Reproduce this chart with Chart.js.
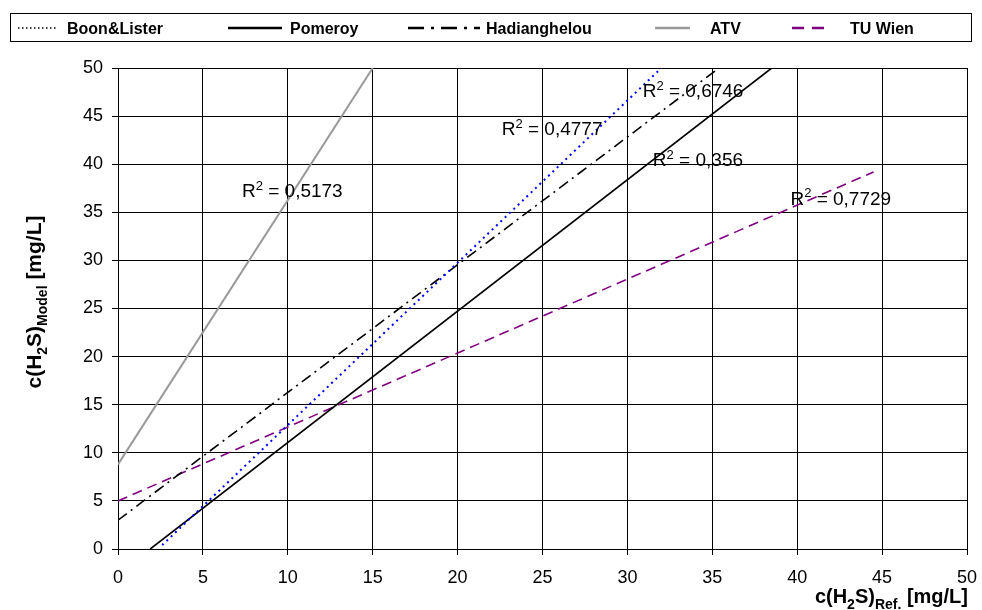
<!DOCTYPE html>
<html>
<head>
<meta charset="utf-8">
<script src="https://cdn.jsdelivr.net/npm/chart.js@4/dist/chart.umd.min.js"></script>
<style>
  html, body { margin: 0; padding: 0; background: #fff; }
  #wrap { width: 982px; height: 610px; position: relative; }
</style>
</head>
<body>
<div id="wrap"><canvas id="h2sChart"></canvas></div>
<script>
// trend lines, start and end points
var names = ["Boon&Lister", "Pomeroy", "Hadianghelou", "ATV", "TU Wien"];
var boonX = [2.6, 32.0], boonY = [0.4, 50];
var pomeroyX = [1.9, 38.5], pomeroyY = [0, 50];
var hadiX = [0, 35.4], hadiY = [3, 50];
var atvX = [0, 15], atvY = [8.8, 50];
var tuwX = [0, 44.5], tuwY = [5, 39.2];

// R² labels: text, x, y (data units, baseline left)
var r2Text = ["0,5173", "0,4777", "0,6746", "0,356", "0,7729"];
var r2X = [7.3, 22.6, 30.9, 31.5, 39.6];
var r2Y = [36.6, 43.0, 47.0, 39.8, 35.8];

var ticks = [0, 5, 10, 15, 20, 25, 30, 35, 40, 45, 50];

function pts(xs, ys) {
  return xs.map(function (x, i) { return { x: x, y: ys[i] }; });
}

var styles = [
  { color: "#0000ff", legendColor: "#000", dash: [2, 4], width: 2 },
  { color: "#000", dash: [], width: 1.6 },
  { color: "#000", dash: [11, 5, 2, 5], width: 1.6 },
  { color: "#999", dash: [], width: 2 },
  { color: "#800080", dash: [10, 6], width: 1.6 }
];
var series = [pts(boonX, boonY), pts(pomeroyX, pomeroyY), pts(hadiX, hadiY), pts(atvX, atvY), pts(tuwX, tuwY)];

var FONT = "'Liberation Sans', Arial, sans-serif";

function drawParts(ctx, parts, x, y, size) {
  // parts: [text, mode] mode 0 normal, 1 subscript, 2 superscript
  var cx = x;
  parts.forEach(function (p) {
    var s = p[1] ? Math.round(size * 0.68) : size;
    ctx.font = (ctx._bold ? "bold " : "") + s + "px " + FONT;
    var dy = p[1] === 1 ? size * 0.28 : (p[1] === 2 ? -size * 0.38 : 0);
    ctx.fillText(p[0], cx, y + dy);
    cx += ctx.measureText(p[0]).width;
  });
  return cx - x;
}
function partsWidth(ctx, parts, size) {
  var w = 0;
  parts.forEach(function (p) {
    var s = p[1] ? Math.round(size * 0.68) : size;
    ctx.font = (ctx._bold ? "bold " : "") + s + "px " + FONT;
    w += ctx.measureText(p[0]).width;
  });
  return w;
}

var decor = {
  id: "decor",
  afterDraw: function (chart) {
    var ctx = chart.ctx;
    var xs = chart.scales.x, ys = chart.scales.y;
    ctx.save();
    ctx.fillStyle = "#000";
    ctx.textBaseline = "alphabetic";
    ctx.textAlign = "left";

    // R² labels
    ctx._bold = false;
    r2Text.forEach(function (t, i) {
      drawParts(ctx, [["R", 0], ["2", 2], [" = " + t, 0]],
        xs.getPixelForValue(r2X[i]), ys.getPixelForValue(r2Y[i]), 19);
    });

    // legend box
    ctx.strokeStyle = "#000";
    ctx.lineWidth = 1;
    ctx.setLineDash([]);
    ctx.strokeRect(10.5, 13.5, 961, 28);
    var lx = [[18, 58, 67], [228, 282, 290], [408, 480, 486], [655, 690, 710], [792, 830, 850]];
    ctx.font = "bold 16px " + FONT;
    names.forEach(function (n, i) {
      var st = styles[i];
      ctx.beginPath();
      ctx.strokeStyle = st.legendColor || st.color;
      ctx.lineWidth = i === 0 ? 1.5 : 2.5;
      ctx.setLineDash(i === 0 ? [1.5, 2.5] : (i === 2 ? [16, 7, 3, 7] : (i === 4 ? [12, 8] : [])));
      ctx.moveTo(lx[i][0], 28);
      ctx.lineTo(lx[i][1], 28);
      ctx.stroke();
      ctx.setLineDash([]);
      ctx.fillText(n, lx[i][2], 34);
    });

    // axis titles
    ctx._bold = true;
    var yParts = [["c(H", 0], ["2", 1], ["S)", 0], ["Model", 1], [" [mg/L]", 0]];
    var w = partsWidth(ctx, yParts, 21);
    ctx.save();
    ctx.translate(41, 302);
    ctx.rotate(-Math.PI / 2);
    drawParts(ctx, yParts, -w / 2, 0, 21);
    ctx.restore();

    var xParts = [["c(H", 0], ["2", 1], ["S)", 0], ["Ref.", 1], [" [mg/L]", 0]];
    w = partsWidth(ctx, xParts, 20);
    drawParts(ctx, xParts, 968 - w, 603, 20);
    ctx._bold = false;
    ctx.restore();
  }
};

var ctx = document.getElementById("h2sChart");
var h2sChart = new Chart(ctx, {
  type: "scatter",
  data: {
    datasets: series.map(function (d, i) {
      return {
        label: names[i],
        data: d,
        showLine: true,
        borderColor: styles[i].color,
        borderDash: styles[i].dash,
        borderWidth: styles[i].width,
        pointRadius: 0,
        fill: false
      };
    })
  },
  options: {
    responsive: true,
    maintainAspectRatio: false,
    animation: false,
    layout: { padding: { left: 0, top: 68, right: 15, bottom: 0 } },
    plugins: {
      legend: { display: false },
      tooltip: { enabled: false }
    },
    scales: {
      x: {
        type: "linear",
        min: 0, max: 50,
        afterBuildTicks: function (s) { s.ticks = ticks.map(function (v) { return { value: v }; }); },
        afterFit: function (s) { s.height = 61; s.paddingLeft = 0; s.paddingRight = 0; },
        grid: { color: "#000", lineWidth: 1, tickLength: 6 },
        border: { color: "#000" },
        ticks: { color: "#000", font: { family: FONT, size: 18 }, padding: 12, maxRotation: 0 }
      },
      y: {
        type: "linear",
        min: 0, max: 50,
        afterBuildTicks: function (s) { s.ticks = ticks.map(function (v) { return { value: v }; }); },
        afterFit: function (s) { s.width = 118; s.paddingTop = 0; s.paddingBottom = 0; },
        grid: { color: "#000", lineWidth: 1, tickLength: 6 },
        border: { color: "#000" },
        ticks: { color: "#000", font: { family: FONT, size: 18 }, padding: 9 }
      }
    }
  },
  plugins: [decor]
});
</script>
</body>
</html>
